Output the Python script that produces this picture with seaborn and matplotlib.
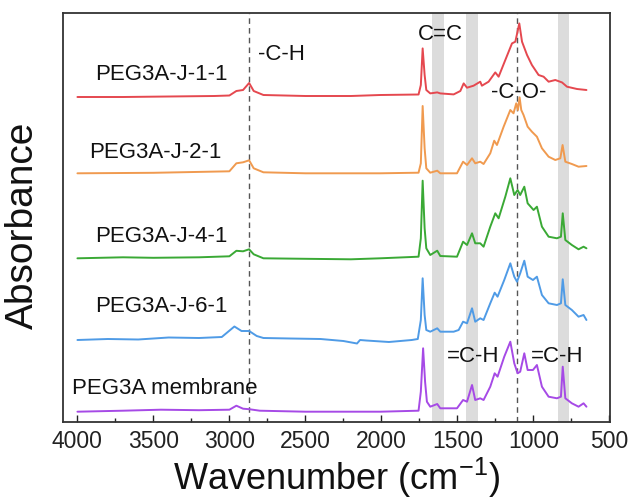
import numpy as np
import pandas as pd
import matplotlib
matplotlib.use("Agg")
import matplotlib.pyplot as plt
import seaborn as sns

# ---------------- data ----------------
samples = ["PEG3A-J-1-1", "PEG3A-J-2-1", "PEG3A-J-4-1", "PEG3A-J-6-1", "PEG3A membrane"]
colors = ["#e5484f", "#f09a4f", "#3aa935", "#4f9be6", "#a64ae6"]
offsets = [3.27, 2.487, 1.637, 0.82, 0.103]

j11_wn = [4000, 3700, 3400, 3100, 3000, 2954, 2910, 2870, 2840, 2776, 2500, 2200, 2007, 1755, 1740, 1728, 1715,
          1704, 1678, 1632, 1612, 1524, 1480, 1458, 1436, 1393, 1349, 1338, 1294, 1250, 1228, 1184, 1140, 1118,
          1092, 1074, 1041, 1009, 965, 932, 899, 855, 811, 778, 712, 650]
j11_abs = [-0.02, -0.02, -0.015, -0.01, -0.005, 0.04, 0.05, 0.12, 0.04, 0.0, -0.01, -0.01, 0.0, 0.005, 0.1, 0.466,
           0.2, 0.05, 0.016, 0.026, 0.016, 0.006, 0.04, 0.116, 0.073, 0.093, 0.133, 0.093, 0.133, 0.226, 0.183,
           0.35, 0.516, 0.533, 0.716, 0.533, 0.40, 0.30, 0.20, 0.183, 0.133, 0.15, 0.126, 0.083, 0.06, 0.05]

j21_wn = [4000, 3500, 3000, 2954, 2910, 2870, 2840, 2776, 2500, 2007, 1755, 1740, 1728, 1715, 1704, 1678, 1632,
          1612, 1502, 1462, 1436, 1403, 1382, 1349, 1327, 1283, 1257, 1239, 1195, 1151, 1130, 1112, 1101, 1090,
          1079, 1064, 1037, 1009, 976, 943, 899, 855, 822, 807, 789, 746, 702, 650]
j21_abs = [0.0, 0.005, 0.02, 0.1, 0.11, 0.13, 0.05, 0.01, 0.0, 0.0, 0.006, 0.1, 0.673, 0.25, 0.05, 0.006, 0.026,
           0.0, 0.0, 0.116, 0.083, 0.15, 0.1, 0.116, 0.093, 0.2, 0.326, 0.283, 0.466, 0.633, 0.6, 0.7, 0.633, 0.76,
           0.633, 0.583, 0.466, 0.416, 0.366, 0.25, 0.166, 0.133, 0.15, 0.283, 0.116, 0.093, 0.066, 0.073]

j41_wn = [4000, 3700, 3500, 3200, 3000, 2954, 2910, 2870, 2840, 2776, 2500, 2200, 2007, 1755, 1740, 1728, 1715,
          1704, 1678, 1632, 1612, 1502, 1462, 1436, 1403, 1382, 1349, 1327, 1283, 1250, 1228, 1184, 1151, 1125,
          1103, 1086, 1059, 1037, 998, 976, 943, 899, 844, 818, 806, 789, 746, 702, 669, 650]
j41_abs = [0.0, 0.01, 0.005, 0.01, 0.02, 0.075, 0.07, 0.09, 0.04, 0.0, -0.005, -0.01, 0.0, 0.016, 0.2, 0.776, 0.3,
           0.1, 0.033, 0.076, 0.023, 0.016, 0.166, 0.133, 0.25, 0.15, 0.15, 0.116, 0.316, 0.45, 0.4, 0.616, 0.8,
           0.633, 0.683, 0.633, 0.716, 0.55, 0.483, 0.516, 0.316, 0.216, 0.2, 0.216, 0.45, 0.183, 0.133, 0.09,
           0.116, 0.1]

j61_wn = [4000, 3800, 3600, 3400, 3200, 3050, 2967, 2920, 2870, 2820, 2776, 2600, 2400, 2250, 2160, 2140, 2100,
          1950, 1800, 1760, 1740, 1728, 1715, 1704, 1678, 1632, 1612, 1524, 1491, 1462, 1436, 1403, 1382, 1349,
          1327, 1283, 1254, 1235, 1191, 1151, 1125, 1107, 1086, 1059, 1037, 1002, 976, 943, 899, 844, 818, 806,
          789, 746, 702, 669, 650]
j61_abs = [0.0, 0.01, 0.005, 0.025, 0.02, 0.03, 0.135, 0.09, 0.09, 0.04, 0.02, 0.015, 0.01, -0.01, -0.035, 0.0,
           -0.005, -0.02, 0.0, 0.01, 0.2, 0.617, 0.25, 0.1, 0.083, 0.117, 0.083, 0.083, 0.1, 0.183, 0.167, 0.317,
           0.183, 0.217, 0.2, 0.367, 0.473, 0.433, 0.6, 0.767, 0.633, 0.583, 0.667, 0.793, 0.633, 0.6, 0.633, 0.45,
           0.367, 0.35, 0.367, 0.607, 0.35, 0.3, 0.233, 0.25, 0.2]

mem_wn = [4000, 3700, 3450, 3200, 3000, 2954, 2910, 2870, 2800, 2500, 2007, 1755, 1740, 1725, 1712, 1700, 1678,
          1632, 1612, 1502, 1462, 1436, 1403, 1382, 1349, 1327, 1283, 1254, 1235, 1191, 1151, 1125, 1103, 1086,
          1059, 1037, 1002, 976, 943, 899, 844, 818, 806, 789, 746, 702, 669, 650]
mem_abs = [0.0, 0.01, 0.02, 0.015, 0.02, 0.06, 0.03, 0.025, 0.01, 0.0, 0.0, 0.01, 0.2, 0.634, 0.3, 0.1, 0.05,
           0.077, 0.034, 0.034, 0.117, 0.1, 0.267, 0.117, 0.134, 0.117, 0.25, 0.384, 0.35, 0.55, 0.7, 0.484, 0.384,
           0.4, 0.584, 0.417, 0.417, 0.467, 0.25, 0.15, 0.134, 0.15, 0.45, 0.134, 0.084, 0.05, 0.084, 0.05]

series_wn = [j11_wn, j21_wn, j41_wn, j61_wn, mem_wn]
series_abs = [j11_abs, j21_abs, j41_abs, j61_abs, mem_abs]

bands = [(1665, 1585), (1441, 1362), (836, 763)]
dashed_at = [2870, 1105]
xticks = [4000, 3500, 3000, 2500, 2000, 1500, 1000, 500]

# ---------------- figure ----------------
sns.set_theme(style="white")
plt.rcParams["font.family"] = ["Liberation Sans", "DejaVu Sans"]
plt.rcParams["mathtext.fontset"] = "custom"
plt.rcParams["mathtext.rm"] = "Liberation Sans"
plt.rcParams["mathtext.it"] = "Liberation Sans"
plt.rcParams["mathtext.bf"] = "Liberation Sans"

frames = []
for name, wn, ab, off in zip(samples, series_wn, series_abs, offsets):
    frames.append(pd.DataFrame({"sample": name, "wavenumber": wn,
                                "signal": np.asarray(ab) + off}))
df = pd.concat(frames, ignore_index=True)

fig = plt.figure(figsize=(6.29, 5.04), dpi=100)
ax = fig.add_axes([63 / 629, 1 - 422 / 504, 547 / 629, 409 / 504])

for lo, hi in bands:
    ax.axvspan(lo, hi, color="#dcdcdc", lw=0, zorder=0)
for xv in dashed_at:
    ax.axvline(xv, color="#555555", lw=1.0, ls=(0, (4, 3)), zorder=1)

sns.lineplot(data=df, x="wavenumber", y="signal", hue="sample", hue_order=samples,
             palette=colors, sort=False, estimator=None, legend=False, lw=1.4, ax=ax, zorder=3)

ax.set_xlim(4095, 495)
ax.set_ylim(0, 4.09)
ax.set_yticks([])
ax.set_xticks(xticks)
ax.set_xticks(np.arange(750, 4000, 500), minor=True)
ax.tick_params(axis="x", which="major", direction="in", length=5, width=1, bottom=True, top=False,
               labelsize=16.5, pad=6, colors="#222222")
ax.tick_params(axis="x", which="minor", direction="in", length=3, width=1, bottom=True, top=False)
for s in ax.spines.values():
    s.set_color("#333333")
    s.set_linewidth(1.3)

ax.set_xlabel("Wavenumber (cm$^{-1}$)", fontsize=26, color="#111111")
ax.set_ylabel("Absorbance", fontsize=28, color="#111111")
ax.xaxis.label.set_va("center")
ax.yaxis.label.set_va("center")
ax.xaxis.set_label_coords(0.5, -0.137)
ax.yaxis.set_label_coords(-0.073, 0.48)

label_pos = [(3882, 3.47), (3921, 2.69), (3885, 1.86), (3885, 1.16), (4033, 0.34)]
for name, (x, y) in zip(samples, label_pos):
    ax.text(x, y, name, fontsize=16, ha="left", va="center", color="#111111")

ax.text(2809, 3.67, "-C-H", fontsize=16, ha="left", va="center", color="#111111")
ax.text(1609, 3.87, "C=C", fontsize=16, ha="center", va="center", color="#111111")
ax.text(1095, 3.29, "-C-O-", fontsize=16, ha="center", va="center", color="#111111")
ax.text(1395, 0.66, "=C-H", fontsize=16, ha="center", va="center", color="#111111")
ax.text(842, 0.66, "=C-H", fontsize=16, ha="center", va="center", color="#111111")

fig.savefig("out.png", dpi=100)
